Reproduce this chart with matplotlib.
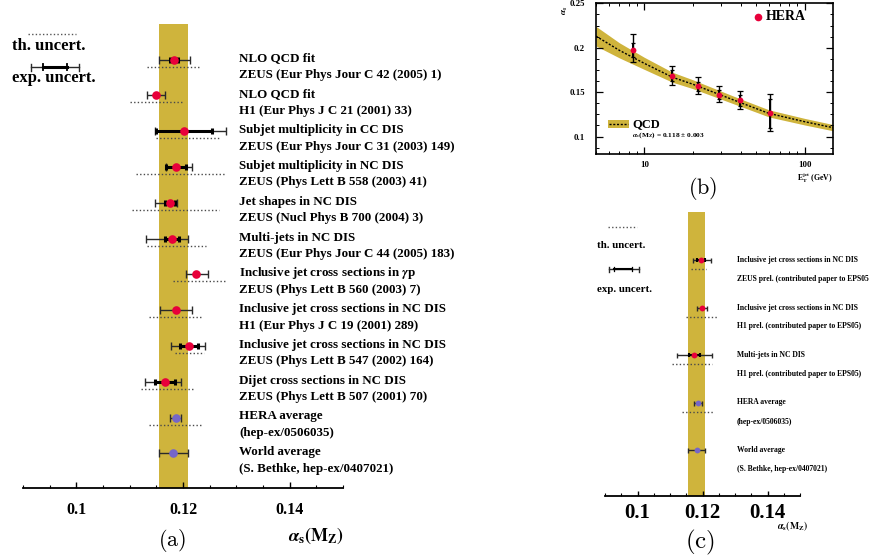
import numpy as np
import matplotlib
matplotlib.use('Agg')
import matplotlib.pyplot as plt
from matplotlib.ticker import MultipleLocator, FuncFormatter, NullFormatter, LogLocator
from matplotlib.patches import Rectangle

plt.rcParams['font.family'] = ['Liberation Serif', 'DejaVu Serif']
plt.rcParams['font.weight'] = 'bold'
plt.rcParams['mathtext.fontset'] = 'stix'

W, H = 873, 559
GOLD = '#CFB43C'
RED = '#E8003A'
PURPLE = '#7566C9'
nan = np.nan

# ---- (a) alpha_s(MZ) summary ----
a_line1 = ['NLO QCD fit', 'NLO QCD fit', 'Subjet multiplicity in CC DIS',
           'Subjet multiplicity in NC DIS', 'Jet shapes in NC DIS', 'Multi-jets in NC DIS',
           r'Inclusive jet cross sections in $\gamma$p', 'Inclusive jet cross sections in NC DIS',
           'Inclusive jet cross sections in NC DIS', 'Dijet cross sections in NC DIS',
           'HERA average', 'World average']
a_line2 = ['ZEUS (Eur Phys Jour C 42 (2005) 1)', 'H1 (Eur Phys J C 21 (2001) 33)',
           'ZEUS (Eur Phys Jour C 31 (2003) 149)', 'ZEUS (Phys Lett B 558 (2003) 41)',
           'ZEUS (Nucl Phys B 700 (2004) 3)', 'ZEUS (Eur Phys Jour C 44 (2005) 183)',
           'ZEUS (Phys Lett B 560 (2003) 7)', 'H1 (Eur Phys J C 19 (2001) 289)',
           'ZEUS (Phys Lett B 547 (2002) 164)', 'ZEUS (Phys Lett B 507 (2001) 70)',
           '(hep-ex/0506035)', '(S. Bethke, hep-ex/0407021)']
a_val = [0.1183, 0.1150, 0.1202, 0.1187, 0.1176, 0.1179, 0.1224, 0.1186, 0.1212, 0.1166, 0.1186, 0.1182]
a_stat = [0.0008, nan, 0.0052, 0.0018, 0.0009, 0.0013, nan, nan, 0.0017, 0.0019, nan, nan]
a_exp_lo = [0.0028, 0.0017, 0.0055, 0.0019, 0.0028, 0.0048, 0.0019, 0.0030, 0.0035, 0.0038, 0.0011, 0.0027]
a_exp_hi = [0.0030, 0.0017, 0.0079, 0.0030, 0.0013, 0.0031, 0.0022, 0.0030, 0.0029, 0.0031, 0.0011, 0.0027]
a_th_lo = [0.0050, 0.0050, 0.0053, 0.0076, 0.0072, 0.0046, 0.0042, 0.0050, 0.0027, 0.0044, 0.0050, nan]
a_th_hi = [0.0050, 0.0050, 0.0065, 0.0093, 0.0091, 0.0064, 0.0054, 0.0051, 0.0028, 0.0057, 0.0050, nan]
a_color = [RED] * 10 + [PURPLE] * 2

world_avg = 0.1182
world_err = 0.0027

# ---- (b) running of alpha_s vs E_T ----
b_et = [8.47, 14.98, 21.6, 29.1, 39.6, 60.8]
b_as = [0.1977, 0.1681, 0.1572, 0.1467, 0.1408, 0.1261]
b_in_lo = [0.0078, 0.0056, 0.0056, 0.0045, 0.0061, 0.0162]
b_in_hi = [0.0079, 0.0068, 0.0045, 0.0057, 0.0056, 0.0165]
b_out_lo = [0.0138, 0.0098, 0.0090, 0.0082, 0.0102, 0.0199]
b_out_hi = [0.0174, 0.0116, 0.0095, 0.0098, 0.0101, 0.0221]
qcd_et = [5, 7, 10, 15, 20, 30, 40, 60, 100, 150]
qcd_mid = [0.213, 0.197, 0.1824, 0.1667, 0.159, 0.1467, 0.138, 0.126, 0.1167, 0.110]
qcd_hw = [0.0110, 0.0085, 0.0068, 0.0056, 0.0050, 0.0045, 0.0042, 0.0040, 0.0037, 0.0035]

# ---- (c) new preliminary results ----
c_line1 = ['Inclusive jet cross sections in NC DIS', 'Inclusive jet cross sections in NC DIS',
           'Multi-jets in NC DIS', 'HERA average', 'World average']
c_line2 = ['ZEUS prel. (contributed paper to EPS05', 'H1 prel. (contributed paper to EPS05)',
           'H1 prel. (contributed paper to EPS05)', '(hep-ex/0506035)', '(S. Bethke, hep-ex/0407021)']
c_val = [0.1195, 0.1198, 0.1175, 0.1186, 0.1182]
c_stat = [0.0013, nan, 0.0017, nan, nan]
c_exp_lo = [0.0024, 0.0016, 0.0053, 0.0011, 0.0027]
c_exp_hi = [0.0030, 0.0016, 0.0054, 0.0011, 0.0027]
c_th_lo = [0.0031, 0.0049, 0.0068, 0.0050, nan]
c_th_hi = [0.0015, 0.0046, 0.0054, 0.0050, nan]
c_color = [RED] * 3 + [PURPLE] * 2


fig = plt.figure(figsize=(W / 100, H / 100), dpi=100)


def px_axes(l, t, r, b):
    return fig.add_axes([l / W, 1 - b / H, (r - l) / W, (b - t) / H])


def g(v):
    return '%g' % v


def draw_rows(ax, vals, stat, elo, ehi, tlo, thi, colors, ms, th_dy, cap, lw_in):
    for i in range(len(vals)):
        ax.errorbar(vals[i], i, xerr=[[elo[i]], [ehi[i]]], fmt='none', ecolor='#2a2a2a',
                    elinewidth=1.0, capsize=cap, capthick=1.0, zorder=3)
        if not np.isnan(stat[i]):
            ax.errorbar(vals[i], i, xerr=stat[i], fmt='none', ecolor='black',
                        elinewidth=lw_in, capsize=cap * 0.8, capthick=lw_in, zorder=4)
        if not np.isnan(tlo[i]):
            ax.hlines(i + th_dy, vals[i] - tlo[i], vals[i] + thi[i], colors='#4a4a4a',
                      linestyles=(0, (1, 1.6)), lw=1.0, zorder=3)
        ax.plot(vals[i], i, 'o', color=colors[i], ms=ms, mec='none', zorder=5)


def summary_axes(l, t, r, b, row0, drow, nrows):
    ax = px_axes(l, t, r, b)
    ax.set_facecolor('none')
    ax.set_xlim(0.09, 0.15)
    ax.set_ylim((b - row0) / drow, (t - row0) / drow)
    for s in ['top', 'left', 'right']:
        ax.spines[s].set_visible(False)
    ax.spines['bottom'].set_linewidth(1.3)
    ax.axvspan(world_avg - world_err, world_avg + world_err, color=GOLD, lw=0, zorder=1)
    ax.xaxis.set_major_locator(MultipleLocator(0.02))
    ax.xaxis.set_minor_locator(MultipleLocator(0.005))
    ax.xaxis.set_major_formatter(FuncFormatter(lambda v, p: g(v)))
    ax.set_yticks([])
    return ax


# panel (a)
A_ROW0, A_DY = 59.5, 35.8
axa = summary_axes(23, 24, 343, 488, A_ROW0, A_DY, len(a_val))
draw_rows(axa, a_val, a_stat, a_exp_lo, a_exp_hi, a_th_lo, a_th_hi, a_color,
          ms=6.2, th_dy=0.2, cap=2.6, lw_in=2.2)
axa.tick_params(axis='x', which='major', direction='in', length=4, width=1, pad=10,
                labelsize=11.5)
axa.tick_params(axis='x', which='minor', direction='in', length=2.2, width=0.8)

# panel (c)
C_ROW0, C_DY = 260, 47.5
axc = summary_axes(605, 212, 800, 496, C_ROW0, C_DY, len(c_val))
draw_rows(axc, c_val, c_stat, c_exp_lo, c_exp_hi, c_th_lo, c_th_hi, c_color,
          ms=4.2, th_dy=0.19, cap=1.8, lw_in=1.5)
axc.tick_params(axis='x', which='major', direction='in', length=3.5, width=1, pad=5,
                labelsize=15)
axc.tick_params(axis='x', which='minor', direction='in', length=2.2, width=0.8)

# panel (b)
axb = px_axes(596, 3.3, 833, 154.3)
axb.set_xscale('log')
axb.set_xlim(5, 150)
axb.set_ylim(0.08, 0.25)
lo = np.array(qcd_mid) - np.array(qcd_hw)
hi = np.array(qcd_mid) + np.array(qcd_hw)
axb.fill_between(qcd_et, lo, hi, color=GOLD, lw=0, zorder=1)
axb.plot(qcd_et, qcd_mid, color='black', ls=(0, (1.5, 1.2)), lw=1.0, zorder=2)
axb.errorbar(b_et, b_as, yerr=[b_out_lo, b_out_hi], fmt='none', ecolor='black',
             elinewidth=1.0, capsize=2, capthick=0.9, zorder=3)
axb.errorbar(b_et, b_as, yerr=[b_in_lo, b_in_hi], fmt='none', ecolor='black',
             elinewidth=1.4, capsize=1.6, capthick=0.9, zorder=3)
axb.plot(b_et, b_as, 'o', color=RED, ms=4.2, mec='none', zorder=4)
for s in axb.spines.values():
    s.set_linewidth(1.2)
axb.yaxis.set_major_locator(MultipleLocator(0.05))
axb.yaxis.set_minor_locator(MultipleLocator(0.0125))
axb.yaxis.set_major_formatter(FuncFormatter(lambda v, p: g(round(v, 3))))
axb.xaxis.set_major_locator(LogLocator(base=10))
axb.xaxis.set_minor_locator(LogLocator(base=10, subs=np.arange(2, 10)))
axb.xaxis.set_major_formatter(FuncFormatter(lambda v, p: g(v)))
axb.xaxis.set_minor_formatter(NullFormatter())
axb.tick_params(which='both', direction='in', top=True, right=True, labelsize=6.3)
axb.tick_params(which='major', length=5, width=0.9)
axb.tick_params(which='minor', length=2.5, width=0.7)
axb.tick_params(axis='y', pad=8)
axb.tick_params(axis='x', pad=5)

# overlay for labels, legends and panel tags (pixel coordinates)
ov = fig.add_axes([0, 0, 1, 1])
ov.set_xlim(0, W)
ov.set_ylim(H, 0)
ov.axis('off')
ov.set_zorder(10)

for i in range(len(a_val)):
    y = A_ROW0 + A_DY * i
    ov.text(239, y - 1, a_line1[i], fontsize=9.4, va='center', ha='left')
    ov.text(239, y + 15.5, a_line2[i], fontsize=9.4, va='center', ha='left')

for i in range(len(c_val)):
    y = C_ROW0 + C_DY * i
    ov.text(737, y, c_line1[i], fontsize=5.5, va='center', ha='left')
    ov.text(737, y + 19, c_line2[i], fontsize=5.5, va='center', ha='left')


def legend_block(x_txt, y_th, x0, x1, y_exp, e0, e1, i0, i1, y_t1, y_t2, fs, cap, lw_in):
    ov.plot([x0, x1], [y_th, y_th], color='#555555', ls=(0, (1, 1.6)), lw=1.0)
    ov.plot([e0, e1], [y_exp, y_exp], color='#2a2a2a', lw=1.0)
    ov.plot([i0, i1], [y_exp, y_exp], color='black', lw=lw_in)
    for xx in (e0, e1):
        ov.plot([xx, xx], [y_exp - cap, y_exp + cap], color='#2a2a2a', lw=1.0)
    for xx in (i0, i1):
        ov.plot([xx, xx], [y_exp - cap * 0.8, y_exp + cap * 0.8], color='black', lw=lw_in * 0.6)
    ov.text(x_txt, y_t1, 'th. uncert.', fontsize=fs, va='center', ha='left')
    ov.text(x_txt, y_t2, 'exp. uncert.', fontsize=fs, va='center', ha='left')


legend_block(12, 34, 28, 76, 67, 31, 79, 43, 67, 46, 78, 12, 3.5, 2.2)
legend_block(597, 227, 608, 637, 269, 609, 639, 614, 632, 245, 289, 7.8, 2.5, 1.5)

# (b) legend and axis titles
ov.plot(758, 17, 'o', color=RED, ms=5.5, mec='none')
ov.text(766, 17, 'HERA', fontsize=10, va='center', ha='left')
ov.add_patch(Rectangle((608, 120), 21, 8, color=GOLD, lw=0))
ov.plot([609, 628], [124, 124], color='black', ls=(0, (1.5, 1.2)), lw=1.0)
ov.text(632, 124, 'QCD', fontsize=9, va='center', ha='left')
ov.text(632, 135.5, r'$\alpha_s$(M$_\mathrm{Z}$) = 0.118 ± 0.003', fontsize=5.3,
        va='center', ha='left')
ov.text(565, 10, r'$\alpha_s$', fontsize=6.5, va='center', ha='center', rotation=90)
ov.text(833, 178, r'E$_\mathrm{T}^\mathrm{jet}$ (GeV)', fontsize=5.6, va='center', ha='right')

# axis titles of the summary panels
ov.text(288, 536, r'$\alpha_\mathrm{s}(\mathrm{M_Z})$', fontsize=13, va='center', ha='left',
        fontweight='normal')
ov.text(777, 526, r'$\alpha_\mathrm{s}(\mathrm{M_Z})$', fontsize=7, va='center', ha='left',
        fontweight='normal')

# panel tags
ov.text(172, 541, r'$\mathrm{(a)}$', fontsize=16, va='center', ha='center', math_fontfamily='cm')
ov.text(703, 188, r'$\mathrm{(b)}$', fontsize=16, va='center', ha='center', math_fontfamily='cm')
ov.text(700, 542, r'$\mathrm{(c)}$', fontsize=18, va='center', ha='center', math_fontfamily='cm')

fig.savefig('out.png', dpi=100)
